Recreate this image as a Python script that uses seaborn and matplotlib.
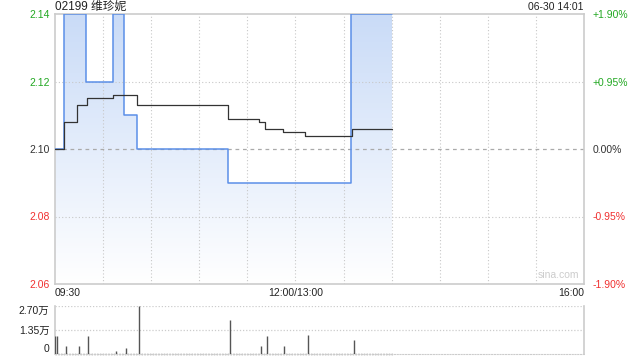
import numpy as np
import pandas as pd
import matplotlib
matplotlib.use("Agg")
import matplotlib.pyplot as plt
from matplotlib.patches import Polygon
import seaborn as sns

# ---- data ----
title = "02199 维珍妮"
stamp = "06-30 14:01"
price_t = [0, 5.6, 19.3, 36.4, 43, 51, 108, 184.7, 210.2]
price_v = [2.10, 2.14, 2.12, 2.14, 2.11, 2.10, 2.09, 2.14, 2.14]
avg_t = [0, 5.6, 13.7, 19.8, 36.4, 51, 107.7, 127, 131, 142, 156, 185, 210.2]
avg_v = [2.100, 2.108, 2.113, 2.115, 2.116, 2.113, 2.109, 2.108, 2.106, 2.105, 2.104, 2.106, 2.106]
vol_t = [0, 1, 6.7, 15.2, 20.4, 37.9, 44.5, 52.6, 109.4, 128.3, 132.4, 143, 157.6, 186.3]
vol_v = [10300, 10300, 4800, 4800, 10300, 1800, 3700, 27000, 19200, 4800, 10300, 4800, 10700, 8100]
left_ticks = [2.06, 2.08, 2.10, 2.12, 2.14]
left_labels = ["2.06", "2.08", "2.10", "2.12", "2.14"]
right_labels = ["-1.90%", "-0.95%", "0.00%", "+0.95%", "+1.90%"]
tick_colors = ["#f03030", "#f03030", "#333333", "#22a822", "#22a822"]
vol_ticks = [0, 13500, 27000]
vol_labels = ["0", "1.35万", "2.70万"]
time_labels = ["09:30", "12:00/13:00", "16:00"]
time_pos = [0, 150, 330]

sns.set_style("white")
plt.rcParams["font.family"] = ["Liberation Sans", "Noto Sans CJK SC", "DejaVu Sans"]

fig = plt.figure(figsize=(6.4, 3.6), dpi=100)
ax = fig.add_axes([55/640, 1-284/360, 529/640, 270/360])
axv = fig.add_axes([55/640, 1-354.3/360, 529/640, 48.8/360])

pdf = pd.DataFrame({"t": price_t, "p": price_v})
adf = pd.DataFrame({"t": avg_t, "p": avg_v})

ax.set_xlim(0, 330)
ax.set_ylim(2.06, 2.14)

# gradient fill under price line
grad = np.linspace(1, 0, 256).reshape(-1, 1)
top_c = np.array([0.79, 0.86, 0.97])
bot_c = np.array([1.0, 1.0, 1.0])
img = bot_c + (top_c - bot_c) * grad[..., None]
img = img.reshape(256, 1, 3)
im = ax.imshow(img, extent=[0, 330, 2.06, 2.14], aspect="auto", zorder=1, origin="upper")
xs, ys = [], []
for i in range(len(price_t)):
    if i > 0:
        xs.append(price_t[i]); ys.append(price_v[i-1])
    xs.append(price_t[i]); ys.append(price_v[i])
poly_pts = [(price_t[0], 2.06)] + list(zip(xs, ys)) + [(price_t[-1], 2.06)]
poly = Polygon(poly_pts, closed=True, facecolor="none", edgecolor="none")
ax.add_patch(poly)
im.set_clip_path(poly)

# grid
for t in range(30, 330, 30):
    ax.axvline(t, color="#c8c8c8", lw=0.8, ls=(0, (1, 2)), zorder=2)
for y in [2.08, 2.12]:
    ax.axhline(y, color="#c8c8c8", lw=0.8, ls=(0, (1, 2)), zorder=2)
ax.axhline(2.10, color="#aaaaaa", lw=0.9, ls=(0, (3, 3)), zorder=2)

sns.lineplot(data=pdf, x="t", y="p", ax=ax, color="#5b8fe8", lw=1.1,
             drawstyle="steps-post", zorder=3)
sns.lineplot(data=adf, x="t", y="p", ax=ax, color="#333333", lw=0.9,
             drawstyle="steps-post", zorder=4)

ax.set_xlabel(""); ax.set_ylabel("")
ax.set_xticks([])
ax.set_yticks(left_ticks)
ax.set_yticklabels(left_labels, fontsize=7.5)
for lab, c in zip(ax.get_yticklabels(), tick_colors):
    lab.set_color(c)
ax.tick_params(axis="y", length=0, pad=4)
for s in ax.spines.values():
    s.set_color("#cccccc"); s.set_linewidth(1.2); s.set_visible(True)

axr = ax.twinx()
axr.set_ylim(2.06, 2.14)
axr.set_yticks(left_ticks)
axr.set_yticklabels(right_labels, fontsize=7.5)
for lab, c in zip(axr.get_yticklabels(), tick_colors):
    lab.set_color(c)
axr.tick_params(axis="y", length=0, pad=6)
for s in axr.spines.values():
    s.set_visible(False)

for lab, tp, ha in zip(time_labels, time_pos, ["left", "center", "right"]):
    ax.text(tp, 2.06 - 0.0026, lab, ha=ha, va="center", fontsize=7.5, color="#222222")

ax.text(327, 2.0612, "sina.com", ha="right", va="bottom", fontsize=7.5, color="#cccccc")

fig.text(55/640, 1-7/360, title, ha="left", va="center", fontsize=8.5, color="#222222")
fig.text(584/640, 1-7/360, stamp, ha="right", va="center", fontsize=7.5, color="#222222")

# volume
axv.set_xlim(0, 330)
axv.set_ylim(0, 27000)
axv.vlines(vol_t, 0, vol_v, color="#555555", lw=1.0, zorder=3)
axv.plot([0, 211], [0, 0], color="#777777", lw=1.0, ls=(0, (1, 1)), zorder=2, clip_on=False)
for y in [13500, 27000]:
    axv.axhline(y, color="#cccccc", lw=0.9, ls=(0, (1, 1.5)), zorder=0.5)
axv.set_xticks([])
axv.set_yticks(vol_ticks)
axv.set_yticklabels(vol_labels, fontsize=7.5, color="#222222")
labs = axv.get_yticklabels()
labs[0].set_verticalalignment("bottom")
labs[2].set_verticalalignment("top")
axv.tick_params(axis="y", length=0, pad=4)
axv.spines["top"].set_visible(False)
axv.spines["bottom"].set_color("#cccccc"); axv.spines["bottom"].set_linestyle((0, (1, 1.5)))
for k in ["left", "right"]:
    axv.spines[k].set_color("#cccccc"); axv.spines[k].set_linewidth(1.2)
    axv.spines[k].set_visible(True)

fig.savefig("out.png", dpi=100, facecolor="white")
